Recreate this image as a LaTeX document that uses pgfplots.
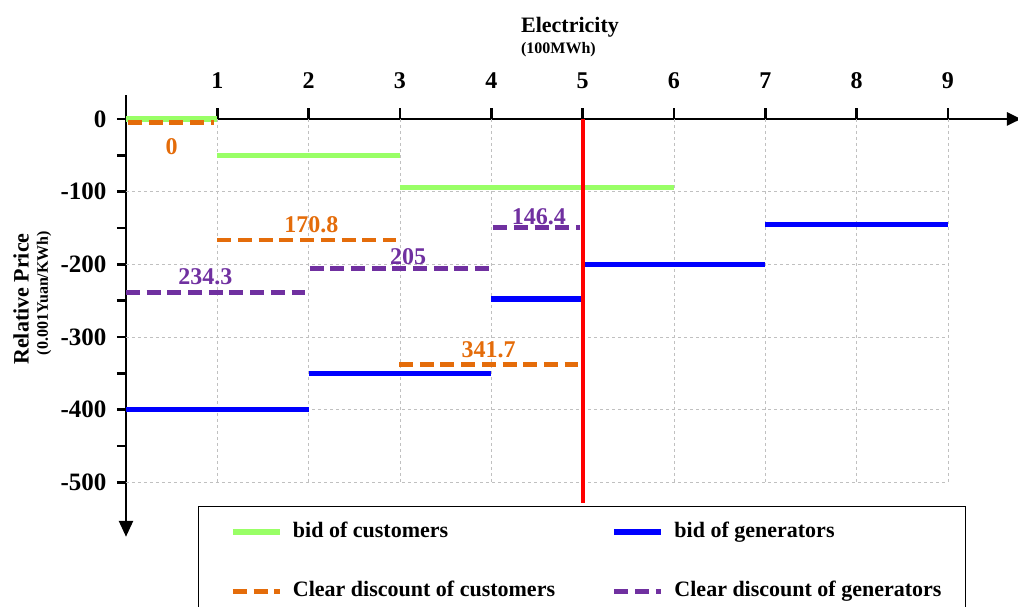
\documentclass[border=0pt]{standalone}
\usepackage{pgfplots}
\pgfplotsset{compat=1.18}
\usepackage{fontspec}
\setmainfont{Liberation Serif}
\usetikzlibrary{arrows.meta}

\definecolor{cgreen}{HTML}{99FF66}
\definecolor{cblue}{HTML}{0000FF}
\definecolor{corange}{HTML}{E46C0A}
\definecolor{cpurple}{HTML}{7030A0}
\definecolor{cgrid}{HTML}{C0C0C0}

\begin{document}
\begin{tikzpicture}
\begin{axis}[
    at={(0,0)}, anchor=south west,
    scale only axis,
    width=895pt, height=441.8pt,
    xmin=0, xmax=9.8,
    ymin=-575, ymax=33,
    clip=false,
    unbounded coords=jump,
    axis x line*=middle,
    axis y line*=left,
    axis line style={line width=2.5pt, black},
    x axis line style={-{Triangle[width=13pt,length=14pt]}},
    y axis line style={{Triangle[width=14pt,length=16pt]}-},
    xtick={1,2,3,4,5,6,7,8,9},
    ytick={-500,-400,-300,-200,-100,0},
    minor ytick={-450,-350,-250,-150,-50},
    x tick style={draw=none},
    y tick style={line width=2.5pt, black},
    tick align=outside,
    major tick length=9pt,
    minor tick length=9pt,
    /pgf/number format/assume math mode=true,
    xticklabel style={anchor=base, yshift=39pt, font=\fontsize{24}{28}\selectfont\bfseries},
    yticklabel style={anchor=east, xshift=-7pt, font=\fontsize{25}{29}\selectfont\bfseries},
    xlabel={Electricity},
    xlabel style={at={(axis description cs:0.4413,1.1404)}, anchor=base west, inner sep=0pt,
        font=\fontsize{22}{26}\selectfont\bfseries},
    ylabel={Relative Price},
    ylabel style={at={(axis description cs:-0.1089,0.538)}, anchor=base, inner sep=0pt,
        font=\fontsize{22}{26}\selectfont\bfseries},
    legend columns=2,
    legend cell align=left,
    legend image code/.code={\path (-13.7pt,0pt); \draw[#1] (0pt,0pt) -- (47pt,0pt);},
    legend style={
        at={(axis cs:0.788,-532.1)}, anchor=north west,
        draw=black, line width=1pt, fill=white,
        inner xsep=18pt, inner ysep=15pt,
        font=\fontsize{22}{26}\selectfont\bfseries,
        row sep=37.3pt,
        nodes={inner xsep=6pt, inner ysep=0pt, text height=16pt, text depth=6pt},
        /tikz/every odd column/.append style={column sep=4.3pt},
        /tikz/every even column/.append style={column sep=36.9pt},
    },
]
% grid
\pgfplotsinvokeforeach{1,2,3,4,5,6,7,8,9}{
    \draw[cgrid, dashed, line width=0.8pt] (axis cs:#1,0) -- (axis cs:#1,-500);
}
\pgfplotsinvokeforeach{-100,-200,-300,-400,-500}{
    \draw[cgrid, dashed, line width=0.8pt] (axis cs:0,#1) -- (axis cs:9,#1);
}
% x ticks pointing up
\pgfplotsinvokeforeach{1,2,3,4,5,6,7,8,9}{
    \draw[black, line width=2.5pt] (axis cs:#1,0) -- ++(0pt,11pt);
}

\addplot[cgreen, line width=5.5pt] coordinates {
    (0,0) (1,0) (1,nan)
    (1,-50) (3,-50) (3,nan)
    (3,-94) (6,-94)
};
\addlegendentry{bid of customers}
\addplot[cblue, line width=5.5pt] coordinates {
    (0,-400) (2,-400) (2,nan)
    (2,-350) (4,-350) (4,nan)
    (4,-248) (5,-248) (5,nan)
    (5,-200) (7,-200) (7,nan)
    (7,-145) (9,-145)
};
\addlegendentry{bid of generators}
\addplot[corange, line width=4.5pt, dash pattern=on 14pt off 6.7pt] coordinates {
    (0.02,-5) (0.96,-5) (0.96,nan)
    (1,-166.5) (2.96,-166.5) (2.96,nan)
    (2.99,-337.6) (4.95,-337.6)
};
\addlegendentry{Clear discount of customers}
\addplot[cpurple, line width=4.5pt, dash pattern=on 14pt off 6.7pt] coordinates {
    (0,-238.5) (1.96,-238.5) (1.96,nan)
    (2.01,-205.5) (3.97,-205.5) (3.97,nan)
    (4.02,-149.5) (4.97,-149.5)
};
\addlegendentry{Clear discount of generators}
% market clearing line
\addplot[red, line width=4pt, forget plot] coordinates {(5,0) (5,-528)};

% value labels
\begin{scope}[font=\fontsize{24}{28}\selectfont\bfseries]
\node[corange, anchor=base] at (axis cs:0.50,-49.5) {0};
\node[corange, anchor=base] at (axis cs:2.03,-155.9) {170.8};
\node[corange, anchor=base] at (axis cs:3.97,-328.9) {341.7};
\node[cpurple, anchor=base] at (axis cs:0.87,-228.4) {234.3};
\node[cpurple, anchor=base] at (axis cs:3.09,-200.9) {205};
\node[cpurple, anchor=base] at (axis cs:4.52,-145.9) {146.4};
\end{scope}
\node[anchor=base west, inner sep=0pt, font=\fontsize{16}{19}\selectfont\bfseries]
    at (axis description cs:0.4413,1.0928) {(100MWh)};
\node[rotate=90, anchor=base, inner sep=0pt, font=\fontsize{16}{19}\selectfont\bfseries]
    at (axis description cs:-0.0872,0.5517) {(0.001Yuan/KWh)};
\end{axis}
\pgfresetboundingbox
\path[use as bounding box] (-126pt,-70.2pt) rectangle (892pt,536.8pt);
\end{tikzpicture}
\end{document}
